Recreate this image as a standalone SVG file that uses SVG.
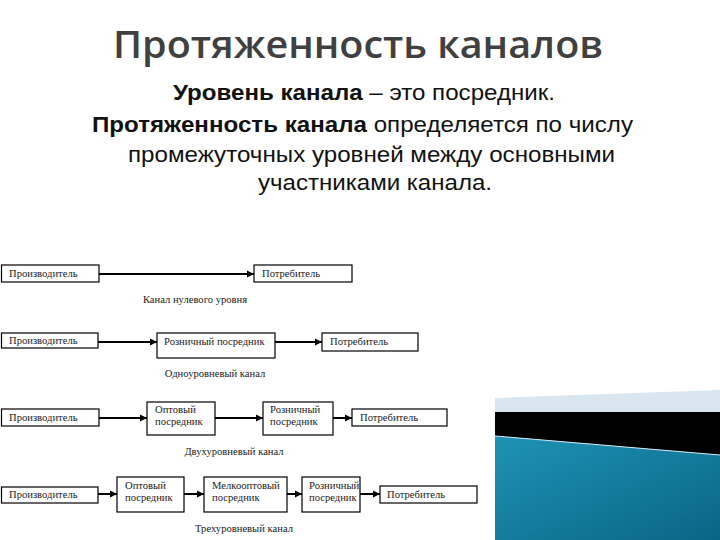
<svg xmlns="http://www.w3.org/2000/svg" width="720" height="540" viewBox="0 0 720 540">
<defs>
<style>
.title{font-family:"Open Sans","DejaVu Sans",sans-serif;font-weight:600;font-size:38px;fill:#404040}
.body{font-family:"Liberation Sans",Arial,sans-serif;font-size:22px;fill:#111}
.b{font-weight:bold}
.box{fill:#fff;stroke:#000;stroke-width:1.2}
.lbl{font-family:"Liberation Serif","Times New Roman",serif;font-size:10.6px;fill:#222}
.cap{font-family:"Liberation Serif","Times New Roman",serif;font-size:10.6px;fill:#222;text-anchor:middle}
.arr{stroke:#000;stroke-width:2;fill:none;marker-end:url(#ah)}
</style>
<marker id="ah" markerWidth="8" markerHeight="8" refX="7" refY="4" orient="auto" markerUnits="userSpaceOnUse">
<path d="M0,0.5 L7,4 L0,7.5 Z" fill="#000"/>
</marker>
<linearGradient id="teal" x1="0" y1="0" x2="1" y2="1">
<stop offset="0" stop-color="#1e93b5"/>
<stop offset="1" stop-color="#0a6584"/>
</linearGradient>
</defs>
<rect width="720" height="540" fill="#fff"/>
<g id="decoration">
<polygon points="495,398 720,390 720,412 495,412" fill="#d9e6ef"/>
<polygon points="495,412 720,412 720,455 495,436" fill="#000"/>
<polygon points="495,436 720,455 720,540 495,540" fill="url(#teal)"/>
<line x1="495" y1="436" x2="720" y2="455" stroke="#cfe6ef" stroke-width="1"/>
</g>
<g id="heading">
<text class="title" x="113" y="58" textLength="490" lengthAdjust="spacingAndGlyphs">Протяженность каналов</text>
<text class="body" x="173" y="100" textLength="382" lengthAdjust="spacingAndGlyphs"><tspan class="b">Уровень канала</tspan> – это посредник.</text>
<text class="body" x="92" y="132" textLength="541" lengthAdjust="spacingAndGlyphs"><tspan class="b">Протяженность канала</tspan> определяется по числу</text>
<text class="body" x="128" y="162" textLength="487" lengthAdjust="spacingAndGlyphs">промежуточных уровней между основными</text>
<text class="body" x="258" y="190" textLength="234" lengthAdjust="spacingAndGlyphs">участниками канала.</text>
</g>
<g id="connectors">
<line class="arr" x1="99" y1="274" x2="254" y2="274"/>
<line class="arr" x1="98" y1="342" x2="157" y2="342"/>
<line class="arr" x1="275" y1="342" x2="322" y2="342"/>
<line class="arr" x1="99" y1="418" x2="147" y2="418"/>
<line class="arr" x1="215" y1="418" x2="263" y2="418"/>
<line class="arr" x1="333" y1="418" x2="352" y2="418"/>
<line class="arr" x1="98" y1="494" x2="117" y2="494"/>
<line class="arr" x1="184" y1="494" x2="204" y2="494"/>
<line class="arr" x1="287" y1="494" x2="302" y2="494"/>
<line class="arr" x1="360" y1="494" x2="380" y2="494"/>
</g>
<g id="row0-producer"><rect class="box" x="1.5" y="265" width="97.5" height="17"/><text class="lbl" x="9" y="277">Производитель</text></g>
<g id="row0-consumer"><rect class="box" x="254" y="265" width="98" height="17"/><text class="lbl" x="262" y="277">Потребитель</text></g>
<text class="cap" x="195" y="303">Канал нулевого уровня</text>

<g id="row1-producer"><rect class="box" x="1.5" y="333" width="96.5" height="15"/><text class="lbl" x="9" y="344">Производитель</text></g>
<g id="row1-retail"><rect class="box" x="157" y="333" width="118" height="25"/><text class="lbl" x="164" y="345">Розничный посредник</text></g>
<g id="row1-consumer"><rect class="box" x="322" y="333" width="96" height="18"/><text class="lbl" x="330" y="345">Потребитель</text></g>
<text class="cap" x="215" y="377">Одноуровневый канал</text>

<g id="row2-producer"><rect class="box" x="1.5" y="409" width="97.5" height="17"/><text class="lbl" x="9" y="421">Производитель</text></g>
<g id="row2-wholesale"><rect class="box" x="147" y="402" width="68" height="33"/><text class="lbl" x="155" y="413">Оптовый</text><text class="lbl" x="155" y="425">посредник</text></g>
<g id="row2-retail"><rect class="box" x="263" y="402" width="70" height="33"/><text class="lbl" x="270" y="413">Розничный</text><text class="lbl" x="270" y="425">посредник</text></g>
<g id="row2-consumer"><rect class="box" x="352" y="409" width="95" height="17"/><text class="lbl" x="360" y="421">Потребитель</text></g>
<text class="cap" x="234" y="455">Двухуровневый канал</text>

<g id="row3-producer"><rect class="box" x="1.5" y="487" width="96.5" height="16"/><text class="lbl" x="9" y="498">Производитель</text></g>
<g id="row3-wholesale"><rect class="box" x="117" y="477" width="67" height="35"/><text class="lbl" x="125" y="489">Оптовый</text><text class="lbl" x="125" y="501">посредник</text></g>
<g id="row3-smallwholesale"><rect class="box" x="204" y="477" width="83" height="35"/><text class="lbl" x="212" y="489">Мелкооптовый</text><text class="lbl" x="212" y="501">посредник</text></g>
<g id="row3-retail"><rect class="box" x="302" y="477" width="58" height="35"/><text class="lbl" x="309" y="489">Розничный</text><text class="lbl" x="309" y="501">посредник</text></g>
<g id="row3-consumer"><rect class="box" x="380" y="486" width="97" height="17"/><text class="lbl" x="387" y="498">Потребитель</text></g>
<text class="cap" x="244" y="532">Трехуровневый канал</text>
</svg>
